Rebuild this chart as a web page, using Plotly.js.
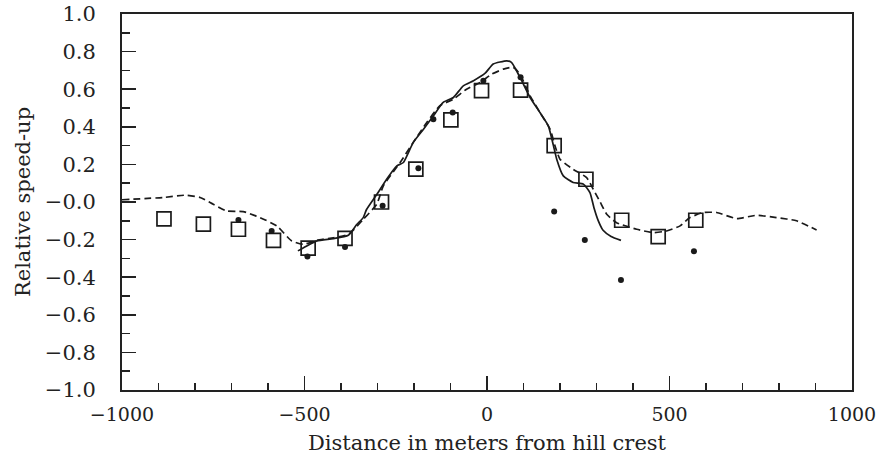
<!DOCTYPE html>
<html>
<head>
<meta charset="utf-8">
<script src="https://cdn.plot.ly/plotly-3.0.1.min.js"></script>
<style>html,body{margin:0;padding:0;background:#fff;}#chart{width:877px;height:465px;}</style>
</head>
<body>
<div id="chart"></div>
<script>
// Measured squares
const squareX = [-885, -777, -681, -585, -490, -389, -289, -195, -99, -15, 92, 184, 271, 369, 469, 572];
const squareY = [-0.09, -0.118, -0.145, -0.204, -0.245, -0.194, 0.0, 0.175, 0.437, 0.592, 0.595, 0.30, 0.121, -0.097, -0.184, -0.097];
// Measured dots
const dotX = [-681, -590, -492, -389, -286, -188, -147, -94, -10, 92, 184, 268, 367, 567];
const dotY = [-0.096, -0.154, -0.29, -0.24, -0.02, 0.18, 0.44, 0.476, 0.645, 0.663, -0.051, -0.202, -0.415, -0.262];
// Dashed model curve
const dashX = [-1000, -887, -827, -786, -750, -713, -668, -622, -576, -535, -503, -466, -421, -379, -339, -302, -284, -238, -202, -165, -129, -92, -56, -19, 13, 45, 72, 90, 118, 145, 173, 186, 200, 236, 273, 291, 310, 328, 355, 410, 456, 492, 529, 556, 592, 629, 684, 738, 793, 848, 903];
const dashY = [0.012, 0.024, 0.036, 0.024, -0.012, -0.048, -0.051, -0.083, -0.127, -0.207, -0.225, -0.204, -0.19, -0.172, -0.092, -0.012, 0.086, 0.21, 0.317, 0.423, 0.512, 0.547, 0.60, 0.636, 0.68, 0.707, 0.716, 0.68, 0.565, 0.476, 0.387, 0.30, 0.228, 0.174, 0.13, 0.068, 0.0, -0.065, -0.11, -0.145, -0.163, -0.154, -0.127, -0.083, -0.056, -0.056, -0.088, -0.071, -0.083, -0.1, -0.149];
// Solid model curve
const solidX = [-518, -495, -466, -421, -380, -357, -339, -330, -302, -275, -247, -229, -202, -174, -147, -120, -92, -65, -37, -5, 17, 54, 67, 81, 95, 118, 145, 168, 182, 191, 209, 236, 264, 282, 293, 305, 318, 340, 367];
const solidY = [-0.26, -0.235, -0.207, -0.195, -0.177, -0.12, -0.083, -0.04, 0.04, 0.121, 0.192, 0.21, 0.317, 0.387, 0.458, 0.53, 0.556, 0.618, 0.645, 0.685, 0.734, 0.751, 0.743, 0.698, 0.645, 0.556, 0.476, 0.405, 0.30, 0.228, 0.139, 0.104, 0.095, 0.05, -0.03, -0.1, -0.15, -0.183, -0.204];
// Tick labels
const yTickVals = [1.0, 0.8, 0.6, 0.4, 0.2, 0.0, -0.2, -0.4, -0.6, -0.8, -1.0];
const yTickText = ['1.0', '0.8', '0.6', '0.4', '0.2', '\u22120.0', '\u22120.2', '\u22120.4', '\u22120.6', '\u22120.8', '\u22121.0'];
const xTickVals = [-1000, -500, 0, 500, 1000];
const xTickText = ['\u22121000', '\u2212500', '0', '500', '1000'];

const ink = '#1a1a1a';
const traces = [
  {x: dashX, y: dashY, mode: 'lines', line: {color: ink, width: 1.7, dash: '7px,4px', shape: 'spline', smoothing: 0.5}, hoverinfo: 'skip'},
  {x: solidX, y: solidY, mode: 'lines', line: {color: ink, width: 1.7, shape: 'spline', smoothing: 0.5}, hoverinfo: 'skip'},
  {x: squareX, y: squareY, mode: 'markers', marker: {symbol: 'square-open', size: 14, color: ink, line: {width: 1.7, color: ink}}},
  {x: dotX, y: dotY, mode: 'markers', marker: {symbol: 'circle', size: 6, color: ink}}
];

const font = {family: 'DejaVu Serif, serif', size: 21, color: '#222'};
const xTickFont = {family: 'DejaVu Serif, serif', size: 19, color: '#222'};
const layout = {
  width: 877, height: 465,
  margin: {l: 122, r: 25, t: 14, b: 75},
  paper_bgcolor: '#fff', plot_bgcolor: '#fff',
  showlegend: false,
  font: font,
  xaxis: {
    range: [-1000, 1000], showgrid: false, zeroline: false,
    showline: true, linecolor: '#222', linewidth: 2, mirror: true,
    tickmode: 'array', tickvals: xTickVals, ticktext: xTickText,
    ticks: 'inside', ticklen: 14, tickwidth: 1.5, tickcolor: '#222',
    ticklabelstandoff: 6, ticklabeloverflow: 'allow',
    minor: {tickmode: 'linear', tick0: 0, dtick: 100, ticks: 'inside', ticklen: 7, tickwidth: 1.5, tickcolor: '#222', showgrid: false},
    tickfont: xTickFont,
    title: {text: 'Distance in meters from hill crest', font: font, standoff: 12}
  },
  yaxis: {
    range: [-1, 1], showgrid: false, zeroline: false,
    showline: true, linecolor: '#222', linewidth: 2, mirror: true,
    tickmode: 'array', tickvals: yTickVals, ticktext: yTickText,
    ticks: 'inside', ticklen: 14, tickwidth: 1.5, tickcolor: '#222',
    ticklabelstandoff: 20, ticklabeloverflow: 'allow',
    minor: {tickmode: 'linear', tick0: 0, dtick: 0.1, ticks: 'inside', ticklen: 8, tickwidth: 1.5, tickcolor: '#222', showgrid: false},
    tickfont: font,
    title: {text: 'Relative speed-up', font: font, standoff: 8}
  }
};
Plotly.newPlot('chart', traces, layout, {staticPlot: true, displayModeBar: false});
</script>
</body>
</html>
